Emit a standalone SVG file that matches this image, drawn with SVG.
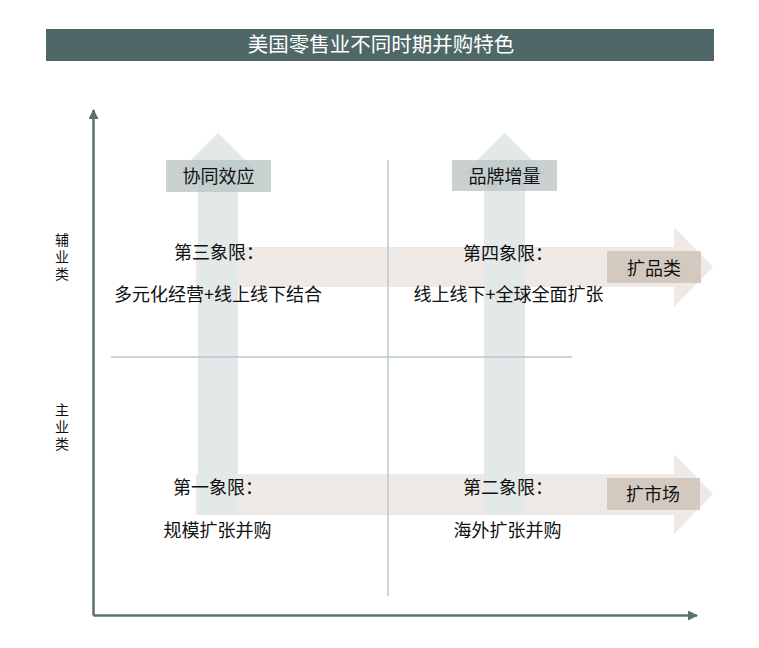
<svg xmlns="http://www.w3.org/2000/svg" width="759" height="648" viewBox="0 0 759 648">
<defs>
<style>
.t{font-family:"Noto Sans CJK SC","Noto Sans",sans-serif;fill:#111111}
.q{font-size:18px}
.ax{font-size:14px}
.harrow{fill:#eee9e5}
.varrow{fill:#e3e8e8}
.vbox{fill:rgb(189,199,199);fill-opacity:0.82}
.hbox{fill:#cfc3b9;fill-opacity:0.85}
.div{stroke:#b7c7cb;stroke-width:1.4;fill:none}
.axis{stroke:#5b6f70;stroke-width:2.5;fill:none}
</style>
<marker id="ah" viewBox="0 0 10 10" refX="9" refY="5" markerWidth="4" markerHeight="4" orient="auto" markerUnits="strokeWidth">
<path d="M0,0 L10,5 L0,10 z" fill="#5b6f70"/>
</marker>
</defs>
<rect width="759" height="648" fill="#ffffff"/>

<g id="title">
<rect x="46" y="29" width="668" height="32" fill="#4f6867"/>
<text x="381" y="52" text-anchor="middle" font-family="'Noto Sans CJK SC',sans-serif" font-size="20.5" fill="#ffffff">美国零售业不同时期并购特色</text>
</g>

<g id="connectors">
<path class="axis" d="M93.5,615.5 L93.5,110" marker-end="url(#ah)"/>
<path class="axis" d="M93.5,615.5 L697,615.5" marker-end="url(#ah)"/>
</g>

<g id="arrow-expand-category">
<polygon class="harrow" points="196,247 674,247 674,227 713,267 674,307 674,287 196,287"/>
</g>
<g id="arrow-expand-market">
<polygon class="harrow" points="196,474 674,474 674,454 713,494 674,534 674,515 196,515"/>
</g>
<g id="arrow-synergy">
<polygon class="varrow" points="218,133 259,174 238,174 238,515 198,515 198,174 177,174"/>
</g>
<g id="arrow-brand">
<polygon class="varrow" points="504.5,133 546,174 525,174 525,515 484,515 484,174 463,174"/>
</g>

<g id="dividers">
<line class="div" x1="388" y1="160" x2="388" y2="596"/>
<line class="div" x1="111" y1="357" x2="572" y2="357"/>
</g>

<g id="label-synergy">
<rect class="vbox" x="166" y="160" width="105" height="32"/>
<text class="t q" x="218.5" y="182.5" text-anchor="middle">协同效应</text>
</g>
<g id="label-brand">
<rect class="vbox" x="452" y="160" width="105" height="31"/>
<text class="t q" x="504.5" y="182.5" text-anchor="middle">品牌增量</text>
</g>
<g id="label-category">
<rect class="hbox" x="607" y="251" width="94" height="32"/>
<text class="t q" x="654" y="274.5" text-anchor="middle">扩品类</text>
</g>
<g id="label-market">
<rect class="hbox" x="607" y="478" width="93" height="32"/>
<text class="t q" x="653" y="500.5" text-anchor="middle">扩市场</text>
</g>

<g id="axis-labels">
<text class="t ax" x="62" y="233" writing-mode="vertical-rl" letter-spacing="3">辅业类</text>
<text class="t ax" x="62" y="403" writing-mode="vertical-rl" letter-spacing="3">主业类</text>
</g>

<g id="q3">
<text class="t q" x="174" y="258.5">第三象限：</text>
<text class="t q" x="218" y="300.5" text-anchor="middle">多元化经营+线上线下结合</text>
</g>
<g id="q4">
<text class="t q" x="463" y="259.5">第四象限：</text>
<text class="t q" x="508.5" y="300.5" text-anchor="middle">线上线下+全球全面扩张</text>
</g>
<g id="q1">
<text class="t q" x="173" y="493.5">第一象限：</text>
<text class="t q" x="217.5" y="536.5" text-anchor="middle">规模扩张并购</text>
</g>
<g id="q2">
<text class="t q" x="463" y="493.5">第二象限：</text>
<text class="t q" x="507.5" y="536.5" text-anchor="middle">海外扩张并购</text>
</g>
</svg>
